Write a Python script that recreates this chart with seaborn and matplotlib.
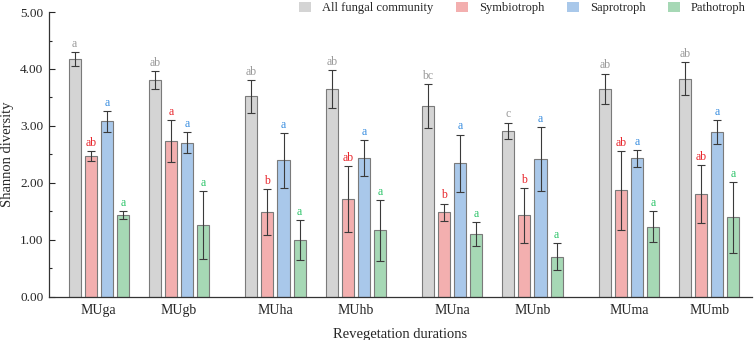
import numpy as np
import pandas as pd
import matplotlib
matplotlib.use("Agg")
import matplotlib.pyplot as plt
from matplotlib.ticker import MultipleLocator, FormatStrFormatter
import seaborn as sns

# --- data ---
sites = ["MUga", "MUgb", "MUha", "MUhb", "MUna", "MUnb", "MUma", "MUmb"]
groups = ["All fungal community", "Symbiotroph", "Saprotroph", "Pathotroph"]

all_fungal = [4.18, 3.81, 3.52, 3.65, 3.35, 2.92, 3.65, 3.83]
all_fungal_err = [0.12, 0.16, 0.29, 0.33, 0.39, 0.14, 0.27, 0.29]
symbiotroph = [2.47, 2.73, 1.49, 1.72, 1.49, 1.43, 1.87, 1.80]
symbiotroph_err = [0.09, 0.37, 0.41, 0.58, 0.15, 0.48, 0.69, 0.51]
saprotroph = [3.08, 2.71, 2.40, 2.44, 2.35, 2.42, 2.43, 2.89]
saprotroph_err = [0.19, 0.19, 0.48, 0.32, 0.50, 0.56, 0.15, 0.21]
pathotroph = [1.44, 1.26, 1.00, 1.17, 1.10, 0.71, 1.23, 1.40]
pathotroph_err = [0.07, 0.60, 0.35, 0.53, 0.21, 0.24, 0.27, 0.62]

all_fungal_sig = ["a", "ab", "ab", "ab", "bc", "c", "ab", "ab"]
symbiotroph_sig = ["ab", "a", "b", "ab", "b", "b", "ab", "ab"]
saprotroph_sig = ["a"] * 8
pathotroph_sig = ["a"] * 8

fills = ["#d4d4d4", "#ffa3a3", "#9ec8f5", "#9ee0b2"]
letter_colors = ["#9a9a9a", "#e8262c", "#3b8fe0", "#2ec46a"]

# sites come in pairs, with a wider gap between pairs
pair_gap = 2.2
positions = [(i // 2) * pair_gap + (i % 2) for i in range(len(sites))]

values = [all_fungal, symbiotroph, saprotroph, pathotroph]
errors = [all_fungal_err, symbiotroph_err, saprotroph_err, pathotroph_err]
letters = [all_fungal_sig, symbiotroph_sig, saprotroph_sig, pathotroph_sig]

df = pd.DataFrame({
    "pos": np.tile(positions, len(groups)),
    "site": np.tile(sites, len(groups)),
    "group": np.repeat(groups, len(sites)),
    "value": np.concatenate(values),
})

sns.set_theme(style="ticks")
plt.rcParams["font.family"] = ["Liberation Serif", "DejaVu Serif"]

fig = plt.figure(figsize=(7.54, 3.40), dpi=100)
ax = fig.add_axes([0.0650, 0.1265, 0.9320, 0.8382])

sns.barplot(data=df, x="pos", y="value", hue="group", hue_order=groups,
            native_scale=True, width=0.8, gap=0.25, palette=fills,
            edgecolor="#7a7a7a", linewidth=0.8, errorbar=None, ax=ax)

# error bars and letters on top of the bars seaborn placed
bar_containers = list(ax.containers)
for k, cont in enumerate(bar_containers):
    xs = [b.get_x() + b.get_width() / 2 for b in cont]
    hs = [b.get_height() for b in cont]
    ax.errorbar(xs, hs, yerr=errors[k], fmt="none", ecolor="#3a3a3a",
                elinewidth=0.8, capsize=2.6, capthick=0.8, zorder=5)
    for x, h, e, lab in zip(xs, hs, errors[k], letters[k]):
        ax.annotate(lab, (x, h + e), xytext=(0, 1.5), textcoords="offset points",
                    ha="center", va="bottom", fontsize=8.5, color=letter_colors[k])

ax.set_xlim(-0.62, positions[-1] + 0.53)
ax.set_ylim(0, 5)
ax.set_xticks(positions)
ax.set_xticklabels(sites, fontsize=10)
ax.tick_params(axis="x", length=0, pad=5)
ax.yaxis.set_major_locator(MultipleLocator(1))
ax.yaxis.set_minor_locator(MultipleLocator(0.5))
ax.yaxis.set_major_formatter(FormatStrFormatter("%.2f"))
ax.tick_params(axis="y", which="major", direction="in", length=4, width=0.8,
               labelsize=9.5, pad=4)
ax.tick_params(axis="y", which="minor", direction="in", length=2.5, width=0.8)
ax.set_xlabel("Revegetation durations", fontsize=10.5, labelpad=8)
ax.set_ylabel("Shannon diversity", fontsize=10.5)
ax.yaxis.set_label_coords(-0.050, 0.5)
sns.despine(ax=ax)
for s in ["left", "bottom"]:
    ax.spines[s].set_linewidth(0.9)
    ax.spines[s].set_color("#333333")

handles, labels = ax.get_legend_handles_labels()
for h in handles:
    h.set_edgecolor("none")
ax.legend(handles, labels, loc="upper right", bbox_to_anchor=(0.996, 1.01),
          bbox_transform=fig.transFigure, ncol=4, frameon=False, fontsize=9,
          handlelength=0.95, handleheight=0.95, handletextpad=0.9,
          columnspacing=1.8, borderaxespad=0)

fig.savefig("out.png", dpi=100)
